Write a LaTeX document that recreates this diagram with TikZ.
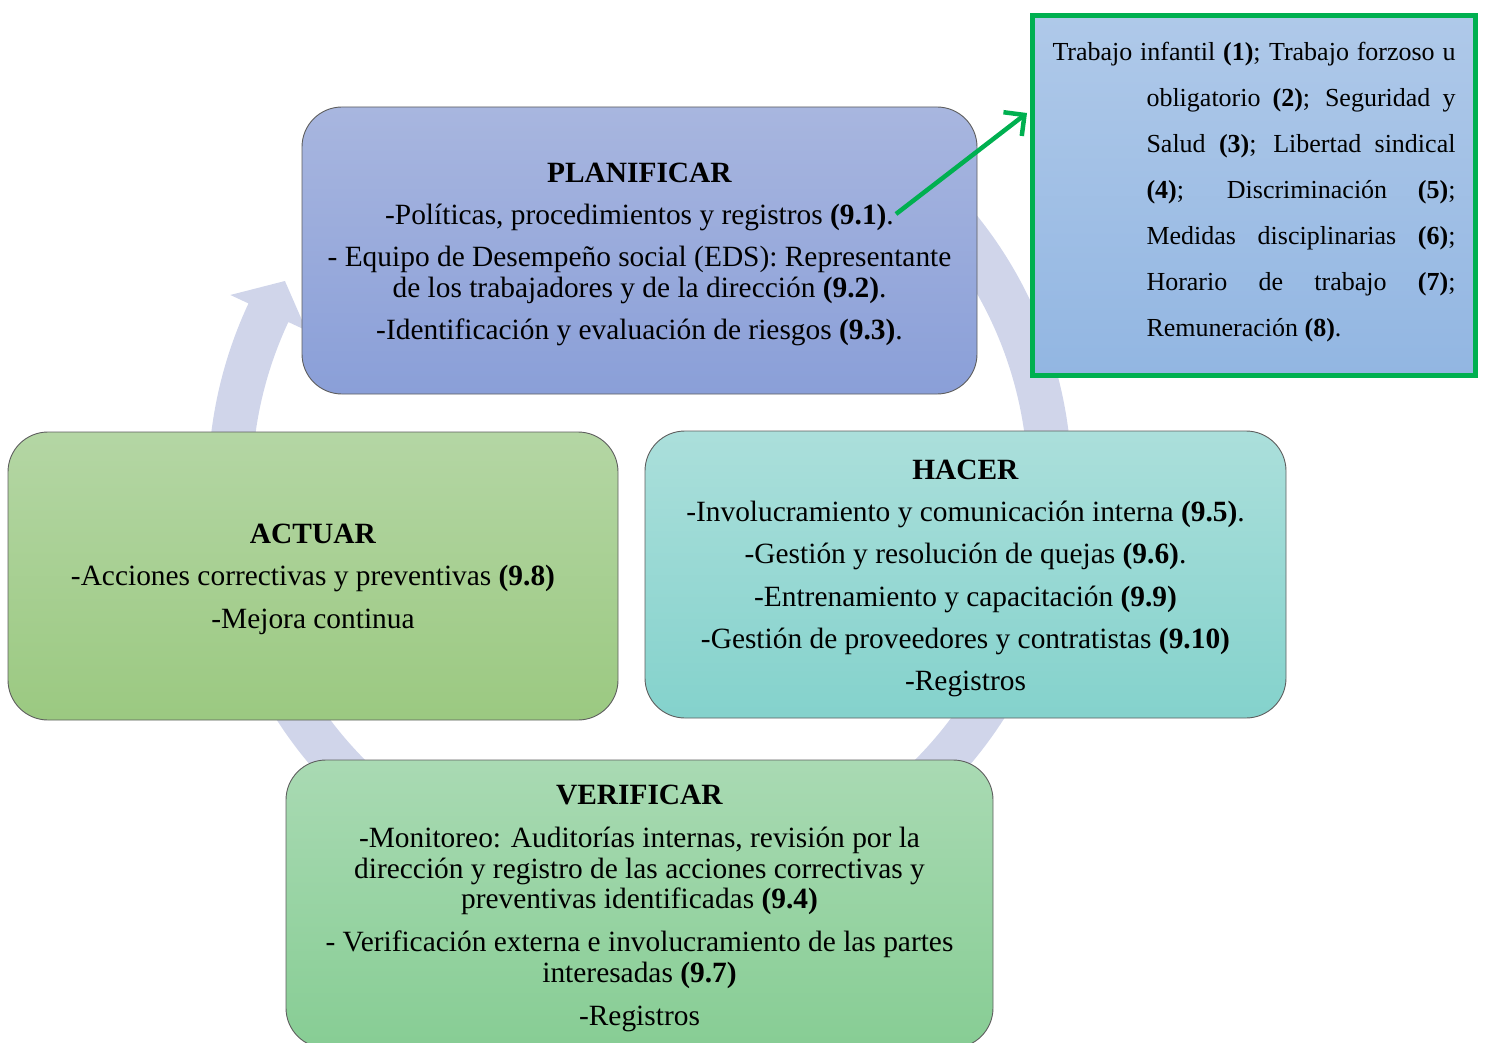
\documentclass[tikz,border=0pt]{standalone}
\usepackage{fontspec}
\setmainfont{Liberation Serif}
\usepackage{tikz}
\usetikzlibrary{arrows.meta}
\definecolor{ringlav}{HTML}{D0D5EA}
\definecolor{plantop}{HTML}{A8B6DF}
\definecolor{planbot}{HTML}{8A9FD8}
\definecolor{acttop}{HTML}{B4D6A4}
\definecolor{actbot}{HTML}{9BC981}
\definecolor{hactop}{HTML}{ABDFDB}
\definecolor{hacbot}{HTML}{84D2CC}
\definecolor{vertop}{HTML}{A9DAB3}
\definecolor{verbot}{HTML}{87CD94}
\definecolor{notetop}{HTML}{AFC9E9}
\definecolor{notebot}{HTML}{92B6E2}
\definecolor{leafgreen}{HTML}{00B050}
\definecolor{edgegray}{HTML}{5E5E5E}

\tikzset{
  phase/.style={draw=edgegray, line width=0.9pt, rounded corners=40pt, inner sep=0pt},
  phasetext/.style={align=center, inner sep=0pt},
}

\begin{document}
\begin{tikzpicture}[x=1pt,y=1pt,font=\fontsize{29.4}{30.5}\selectfont]
  \useasboundingbox (0,0) rectangle (1486,-1043);
  % cycle ring behind the boxes
  \coordinate (ringc) at (640,-486);
  \fill[ringlav] ([shift={(ringc)}]50:432) arc[start angle=50,end angle=-205,radius=432]
    -- ([shift={(ringc)}]-205:452) -- ([shift={(ringc)}]-210:410) -- ([shift={(ringc)}]-205:368)
    -- ([shift={(ringc)}]-205:388) arc[start angle=-205,end angle=50,radius=388] -- cycle;

  \node[phase, top color=plantop, bottom color=planbot, minimum width=675pt, minimum height=287pt]
    (plan) at (639.5,-250.5) {};
  \node[phasetext] (plantxt) at ([yshift=-4pt]plan.center) {\textbf{PLANIFICAR}\\[11pt]
    -Políticas, procedimientos y registros \textbf{(9.1)}.\\[12pt]
    - Equipo de Desempeño social (EDS): Representante\\
    de los trabajadores y de la dirección \textbf{(9.2)}.\\[12pt]
    -Identificación y evaluación de riesgos \textbf{(9.3)}.};

  \node[phase, top color=acttop, bottom color=actbot, minimum width=610pt, minimum height=288pt]
    (actuar) at (313,-576) {};
  \node[phasetext] (actuartxt) at ([yshift=-3pt]actuar.center) {\textbf{ACTUAR}\\[12pt]
    -Acciones correctivas y preventivas \textbf{(9.8)}\\[12pt]
    -Mejora continua};

  \node[phase, top color=hactop, bottom color=hacbot, minimum width=641pt, minimum height=287pt]
    (hacer) at (965.5,-574.5) {};
  \node[phasetext] (hacertxt) at ([yshift=-4pt]hacer.center) {\textbf{HACER}\\[11.7pt]
    -Involucramiento y comunicación interna \textbf{(9.5)}.\\[11.7pt]
    -Gestión y resolución de quejas \textbf{(9.6)}.\\[11.7pt]
    -Entrenamiento y capacitación \textbf{(9.9)}\\[11.7pt]
    -Gestión de proveedores y contratistas \textbf{(9.10)}\\[11.7pt]
    -Registros};

  \node[phase, top color=vertop, bottom color=verbot, minimum width=707pt, minimum height=288pt]
    (verif) at (639.5,-904) {};
  \node[phasetext] (veriftxt) at ([yshift=-4.5pt]verif.center) {\textbf{VERIFICAR}\\[12.5pt]
    -Monitoreo: Auditorías internas, revisión por la\\
    dirección y registro de las acciones correctivas y\\
    preventivas identificadas \textbf{(9.4)}\\[12.5pt]
    - Verificación externa e involucramiento de las partes\\
    interesadas \textbf{(9.7)}\\[12.5pt]
    -Registros};

  % detail box for 9.1
  \node[draw=leafgreen, line width=5pt, top color=notetop, bottom color=notebot,
    minimum width=443pt, minimum height=360pt, inner sep=0pt] (note) at (1254,-195.5) {};
  \node[align=left, inner sep=0pt, font=\fontsize{26}{46}\selectfont]
    (notetxt) at ([yshift=3pt]note.center) {%
    \makebox[403pt][s]{Trabajo infantil \textbf{(1)}; Trabajo forzoso u}\\
    \hspace*{94pt}\makebox[309pt][s]{obligatorio \textbf{(2)}; Seguridad y}\\
    \hspace*{94pt}\makebox[309pt][s]{Salud \textbf{(3)}; Libertad sindical}\\
    \hspace*{94pt}\makebox[309pt][s]{\textbf{(4)}; Discriminación \textbf{(5)};}\\
    \hspace*{94pt}\makebox[309pt][s]{Medidas disciplinarias \textbf{(6)};}\\
    \hspace*{94pt}\makebox[309pt][s]{Horario de trabajo \textbf{(7)};}\\
    \hspace*{94pt}Remuneración \textbf{(8)}.\hspace*{114pt}};

  \coordinate (linkfrom) at (896,-214);
  \coordinate (linkto) at (1027,-113);
  \draw[leafgreen, line width=4.5pt, -{Straight Barb[length=15pt,width=30pt]}] (linkfrom) -- (linkto);
\end{tikzpicture}
\end{document}
